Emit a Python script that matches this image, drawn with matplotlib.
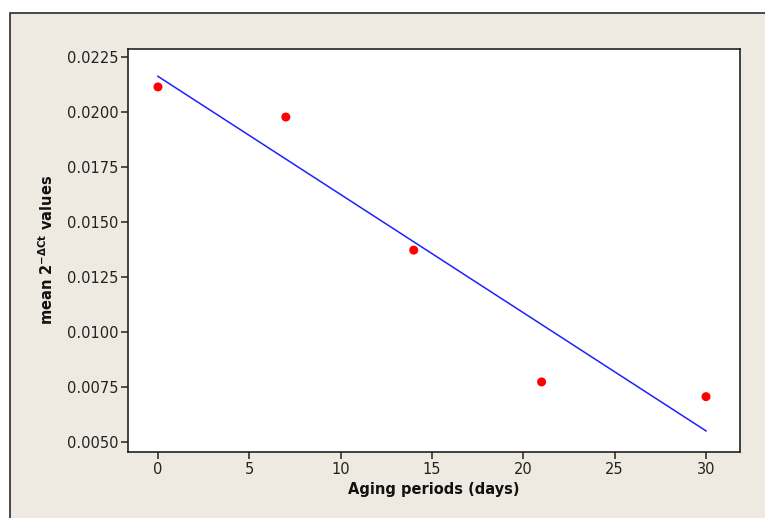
import matplotlib.pyplot as plt
import numpy as np
from matplotlib.patches import Rectangle

# aging period (days) vs mean 2^-dCt
days = [0, 7, 14, 21, 30]
mean_vals = [0.02115, 0.01978, 0.01372, 0.00772, 0.00705]
yticks = [0.0050, 0.0075, 0.0100, 0.0125, 0.0150, 0.0175, 0.0200, 0.0225]
xticks = [0, 5, 10, 15, 20, 25, 30]

W, H = 765, 518
fig = plt.figure(figsize=(W / 100, H / 100), dpi=100, facecolor="white")

# beige Minitab-style panel behind the plot (cut off at right and bottom)
fig.patches.append(Rectangle((10 / W, -0.05), 1.1, 1.05 - 13 / H,
                             transform=fig.transFigure,
                             facecolor="#EEEAE1", edgecolor="#2b2b2b", lw=1.2,
                             zorder=-10))

ax = fig.add_axes([128 / W, 1 - 452 / H, (740 - 128) / W, (452 - 48.7) / H])
ax.set_facecolor("white")

# least-squares fit line across the observed range
slope, icpt = np.polyfit(days, mean_vals, 1)
xf = np.array([days[0], days[-1]])
ax.plot(xf, icpt + slope * xf, color="#1f1fff", lw=1.1, zorder=2)
ax.scatter(days, mean_vals, s=42, color="#ff0000", edgecolor="none", zorder=3)

ax.set_xlim(-1.64, 31.86)
ax.set_ylim(0.00453, 0.02289)
ax.set_xticks(xticks)
ax.set_yticks(yticks)
ax.set_yticklabels([f"{v:.4f}" for v in yticks])

for s in ax.spines.values():
    s.set_color("#222222")
    s.set_linewidth(1.2)
ax.tick_params(direction="out", length=5, width=1.1, color="#222222",
               labelcolor="#222222", labelsize=10.5, pad=2)

ax.set_xlabel("Aging periods (days)", fontsize=10.5, fontweight="bold",
              color="#111111", labelpad=4)
ax.set_ylabel(r"mean 2$^{\mathbf{-\Delta Ct}}$ values", fontsize=10.5,
              fontweight="bold", color="#111111", labelpad=8)

fig.savefig("out.png", dpi=100, facecolor="white")
